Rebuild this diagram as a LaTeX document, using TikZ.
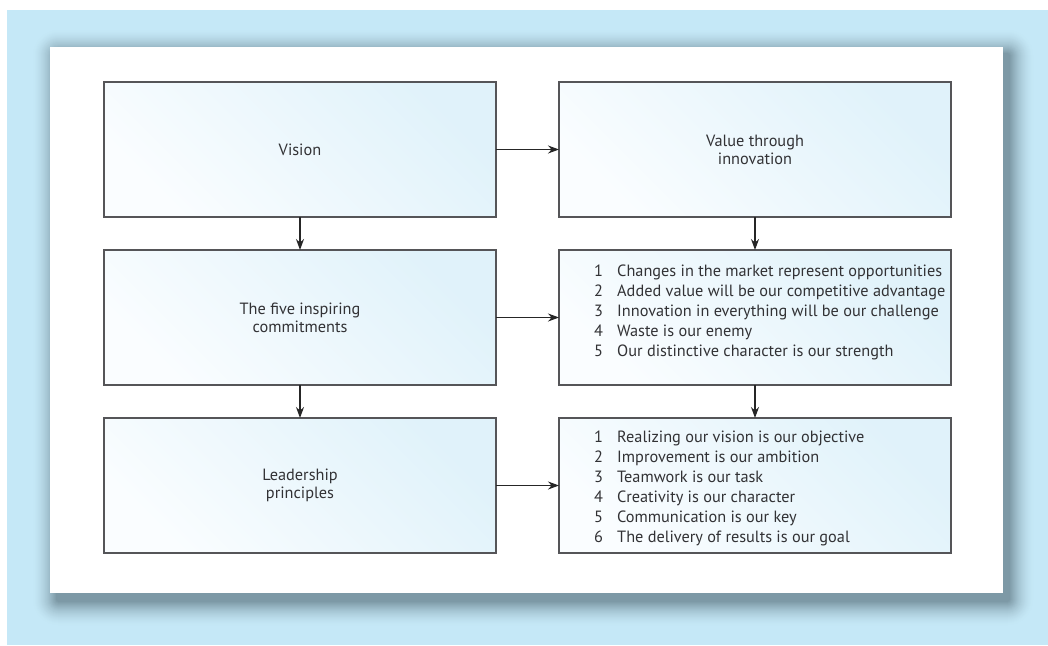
\documentclass[tikz,border=0pt]{standalone}
\usepackage{fontspec}
\setmainfont{PT Sans}
\usetikzlibrary{arrows.meta}
\definecolor{bgblue}{RGB}{197,232,247}
\definecolor{shd}{RGB}{125,153,166}
\definecolor{boxline}{RGB}{85,85,88}
\definecolor{boxtl}{RGB}{250,253,255}
\definecolor{boxbr}{RGB}{224,242,250}
\definecolor{txt}{RGB}{50,50,53}
\tikzset{
  stagebox/.style={draw=boxline, line width=1.6pt, left color=boxtl, right color=boxbr, shading angle=135,
    minimum width=392pt, minimum height=135pt, inner sep=0pt, outer sep=0pt,
    text=txt, font=\fontsize{16.3}{18}\selectfont, align=center},
  conn/.style={draw=black!85, line width=1.2pt, -{Stealth[length=11pt,width=8pt]}},
  listtext/.style={text=txt, font=\fontsize{16.3}{20}\selectfont, align=left, anchor=north west, inner sep=0pt}
}
\begin{document}
\begin{tikzpicture}[x=1pt,y=-1pt]
\useasboundingbox (0,0) rectangle (1048,645);
\fill[white] (0,0) rectangle (1048,645);
\fill[bgblue] (7,10) rectangle (1048,645);
% soft shadow
\foreach \e in {24,23,...,0}{
  \pgfmathtruncatemacro\p{100*(1-\e/25)^1.7}
  \pgfmathsetmacro\r{\e+3}
  \fill[shd!\p!bgblue, rounded corners=\r pt] (56-\e,53-\e) rectangle (1010+\e,602+\e);
}
\fill[white] (50,47) rectangle (1003,593);
% boxes
\node[stagebox] (vision) at (300,149.5) {Vision};
\node[stagebox] (value) at (755,149.5) {Value through\\innovation};
\node[stagebox] (five) at (300,317.5) {The five inspiring\\commitments};
\node[stagebox] (fivelist) at (755,317.5) {};
\node[stagebox] (lead) at (300,485.5) {Leadership\\principles};
\node[stagebox] (leadlist) at (755,485.5) {};
% lists
\node[listtext] (l1) at (594,265) {1\\2\\3\\4\\5};
\node[listtext] (l1t) at (617,265) {Changes in the market represent opportunities\\Added value will be our competitive advantage\\Innovation in everything will be our challenge\\Waste is our enemy\\Our distinctive character is our strength};
\node[listtext] (l2) at (594,431) {1\\2\\3\\4\\5\\6};
\node[listtext] (l2t) at (617,431) {Realizing our vision is our objective\\Improvement is our ambition\\Teamwork is our task\\Creativity is our character\\Communication is our key\\The delivery of results is our goal};
% connectors
\draw[conn] (vision.east) -- (value.west);
\draw[conn] (five.east) -- (fivelist.west);
\draw[conn] (lead.east) -- (leadlist.west);
\draw[conn] (vision.south) -- (five.north);
\draw[conn] (five.south) -- (lead.north);
\draw[conn] (value.south) -- (fivelist.north);
\draw[conn] (fivelist.south) -- (leadlist.north);
\end{tikzpicture}
\end{document}
